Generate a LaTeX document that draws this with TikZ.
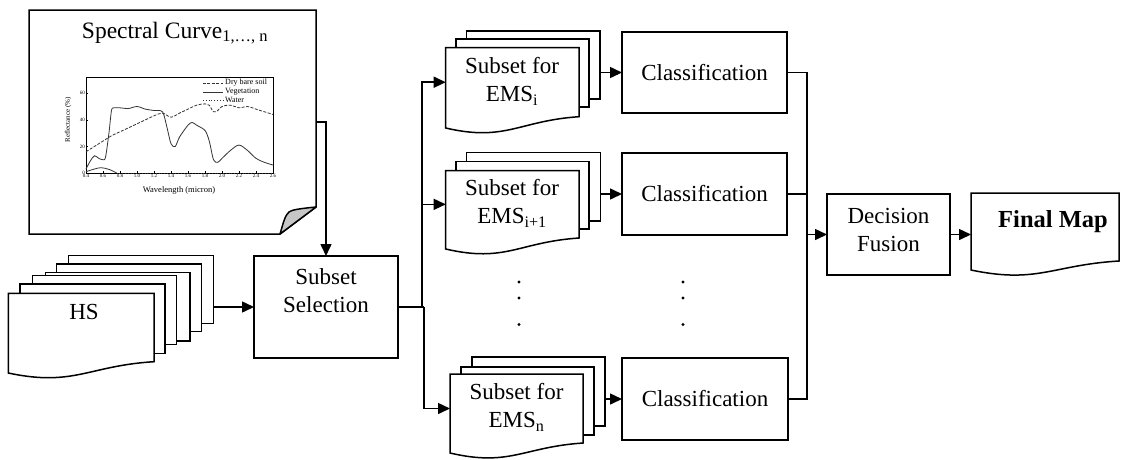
\documentclass[tikz,border=0pt]{standalone}
\usepackage{fontspec}
\setmainfont{Liberation Serif}
\usetikzlibrary{arrows.meta}

% invisible rectangular area used as a connection target
\newcommand\areanode[5]{\node[area, minimum width={(#4)-(#2)}, minimum height={(#5)-(#3)}, anchor=north west] (#1) at (#2,#3) {};}
% plain sheet of a stack
\newcommand\flatsheet[4]{\filldraw[sheet] (#1,#2) rectangle (#3,#4);}
% document sheet with wavy lower edge: L T R (bottom right) (bottom left)
\newcommand\wavesheet[5]{\filldraw[sheet] (#1,#2) -- (#3,#2) -- (#3,#4)
  .. controls ({#1+0.55*(#3-#1)},{#4+4}) and ({#1+0.45*(#3-#1)},{#5+14}) .. (#1,#5) -- cycle;}

\begin{document}
\begin{tikzpicture}[x=1pt,y=-1pt,
  every node/.style={font=\fontsize{23}{27.5}\selectfont},
  ln/.style={line width=1.5pt, line join=miter},
  arr/.style={ln, -{Triangle[length=12pt,width=11pt]}},
  sheet/.style={ln, fill=white},
  box/.style={ln, draw, fill=white, inner sep=0pt, outer sep=0pt, align=center},
  area/.style={inner sep=0pt, outer sep=0pt, draw=none},
  lbl/.style={align=center, inner sep=0pt},
  tiny/.style={font=\fontsize{5}{6}\selectfont, inner sep=1pt},
  legendtxt/.style={font=\fontsize{8}{9}\selectfont, inner sep=0pt, anchor=west},
  curve/.style={line width=0.8pt, black!80},
]
\useasboundingbox (0,0) rectangle (1122,459);

% ---------- spectral curve sheet with turned-up corner ----------
\node[area, minimum width=287, minimum height=224, anchor=north west] (panel) at (29,10) {};
\filldraw[sheet] (panel.north west) -- (panel.north east) -- (316,207) -- (280,234) -- (panel.south west) -- cycle;
\filldraw[ln, fill=gray!45, line join=round] (280,234) .. controls (283,224) and (285,215) .. (289,212)
  .. controls (292,210) and (296,209) .. (316,207) -- cycle;
\node[lbl, font=\fontsize{23.5}{28}\selectfont] (sctitle) at (175,33) {Spectral Curve\textsubscript{1,…, n}};

% reflectance plot
\begin{scope}[shift={(52pt,-173pt)}, x=85pt, y=1.33pt, line width=0.5pt]
  \draw (0.4,0) rectangle (2.6,72);
  \foreach \v in {0.4,0.6,0.8,1.0,1.2,1.4,1.6,1.8,2.0,2.2,2.4,2.6} {
    \draw (\v,0) -- (\v,1.5);
    \node[tiny, below] at (\v,0) {\v};
  }
  \foreach \v in {0,20,40,60} {
    \draw (0.4,\v) -- (0.42,\v);
    \node[tiny, left] at (0.4,\v) {\v};
  }
  \node[font=\fontsize{8.5}{10}\selectfont, inner sep=0pt] at (1.494,-12.8) {Wavelength (micron)};
  \node[font=\fontsize{7}{8}\selectfont, inner sep=0pt, rotate=90] at (0.19,40) {Reflectance (\%)};
  % dry bare soil
  \draw[curve, dash pattern=on 3pt off 1.5pt] plot[smooth, tension=0.6] coordinates {
    (0.4,16) (0.5,20) (0.6,24) (0.7,28) (0.8,31) (0.9,34) (1.0,37) (1.1,40) (1.2,43)
    (1.3,45) (1.4,42) (1.5,45) (1.6,48) (1.7,51) (1.8,52) (1.85,51) (1.9,46) (1.95,47)
    (2.0,50) (2.1,51) (2.2,49) (2.3,50) (2.4,48) (2.5,46) (2.6,44)};
  % vegetation
  \draw[curve] plot[smooth, tension=0.5] coordinates {
    (0.4,3) (0.45,9) (0.5,13) (0.55,11) (0.6,10) (0.63,12) (0.67,30) (0.7,47) (0.73,49)
    (0.8,49) (0.9,48.5) (1.0,50) (1.1,48) (1.2,47) (1.3,46) (1.35,35) (1.4,22) (1.45,20)
    (1.5,27) (1.6,36) (1.65,38) (1.7,36) (1.8,32) (1.85,24) (1.9,10) (1.95,8) (2.0,11)
    (2.1,17) (2.2,21) (2.3,17) (2.4,11) (2.5,8) (2.6,6)};
  % water
  \draw[curve] plot[smooth, tension=0.6] coordinates {
    (0.4,1) (0.5,3) (0.58,4) (0.68,2.5) (0.76,0)};
  \draw[curve, dotted] (0.76,0) -- (2.6,0);
  % legend
  \draw[curve, dash pattern=on 3pt off 1.5pt] (1.776,67.7) -- (2.012,67.7);
  \node[legendtxt] at (2.035,67.7) {Dry bare soil};
  \draw[curve] (1.776,60.9) -- (2.012,60.9);
  \node[legendtxt] at (2.035,60.9) {Vegetation};
  \draw[curve, dotted] (1.776,54.9) -- (2.012,54.9);
  \node[legendtxt] at (2.035,54.9) {Water};
\end{scope}

% ---------- HS image stack ----------
\flatsheet{68.3}{255.7}{213.3}{323.3}
\flatsheet{56.7}{264}{201.7}{331.7}
\flatsheet{45.7}{272.3}{190}{341}
\flatsheet{32.3}{275.7}{176.7}{344.3}
\flatsheet{20}{284}{165}{353.3}
\wavesheet{8.3}{293.3}{154}{361.7}{373}
\areanode{hsback}{68.3}{255.7}{213.3}{323.3}
\node[lbl] (hs) at (84,312) {HS};

% ---------- subset selection ----------
\node[box, minimum width=144, minimum height=102] (sel) at (326,307) {};
\node[lbl] (seltxt) at (326,290.5) {Subset\\Selection};

% ---------- subsets for each EMS ----------
\flatsheet{466.7}{31}{600}{99}
\flatsheet{456}{39}{589}{107}
\wavesheet{445.7}{47.7}{579}{116.7}{128}
\areanode{e1}{445.7}{47.7}{579}{116.7}
\areanode{e1b}{466.7}{31}{600}{99}
\node[lbl] (t1) at (512,81.5) {Subset for\\EMS\textsubscript{i}};

\flatsheet{466.7}{152.7}{600.7}{221}
\flatsheet{456}{161.7}{589}{229}
\wavesheet{445.7}{170.7}{579}{238}{249}
\areanode{e2}{445.7}{170.7}{579}{238}
\areanode{e2b}{466.7}{152.7}{600.7}{221}
\node[lbl] (t2) at (512,203.5) {Subset for\\EMS\textsubscript{i+1}};

\flatsheet{472}{357}{605}{426}
\flatsheet{461}{367}{594}{435}
\wavesheet{450}{374}{583}{443}{453}
\areanode{e3}{450}{374}{583}{443}
\areanode{e3b}{472}{357}{605}{426}
\node[lbl] (t3) at (516.5,407.5) {Subset for\\EMS\textsubscript{n}};

% ---------- classifiers ----------
\node[box, minimum width=165, minimum height=81] (c1) at (704.5,72.5) {Classification};
\node[box, minimum width=165, minimum height=82] (c2) at (704.5,194) {Classification};
\node[box, minimum width=166, minimum height=82] (c3) at (705,399) {Classification};

% continuation dots
\foreach \x in {519,683} {
  \fill (\x,282) circle[radius=1.6pt];
  \fill (\x,298) circle[radius=1.6pt];
  \fill (\x,324.5) circle[radius=1.6pt];
}

% ---------- fusion and output ----------
\node[box, minimum width=123, minimum height=81] (df) at (888.5,234.5) {};
\node[lbl] (dftxt) at (888.5,230) {Decision\\Fusion};
\wavesheet{971}{193}{1119}{261}{270}
\areanode{fm}{971}{193}{1119}{276}
\node[lbl, font=\bfseries\fontsize{24.5}{29}\selectfont] (fmtxt) at (1053,222) {Final Map};

% ---------- connectors ----------
\draw[arr] (panel.east) -| (sel.north);
\draw[arr] (sel.west -| hsback.east) -- (sel.west);
\coordinate (bu) at (422,307);
\coordinate (bd) at (424,307);
\draw[ln] (sel.east) -- (bd);
\draw[arr] (bu) |- (e1.west);
\draw[arr] (bu) |- (e2.west);
\draw[arr] (bd) |- (e3.west);
\draw[arr] (c1.west -| e1b.east) -- (c1.west);
\draw[arr] (c2.west -| e2b.east) -- (c2.west);
\draw[arr] (c3.west -| e3b.east) -- (c3.west);
\coordinate (fb) at (807,234.5);
\draw[ln] (c1.east) -| (fb);
\draw[ln] (c2.east) -| (fb);
\draw[ln] (c3.east) -| (fb);
\draw[arr] (fb) -- (df.west);
\draw[arr] (df.east) -- (df.east -| fm.west);
\end{tikzpicture}
\end{document}
